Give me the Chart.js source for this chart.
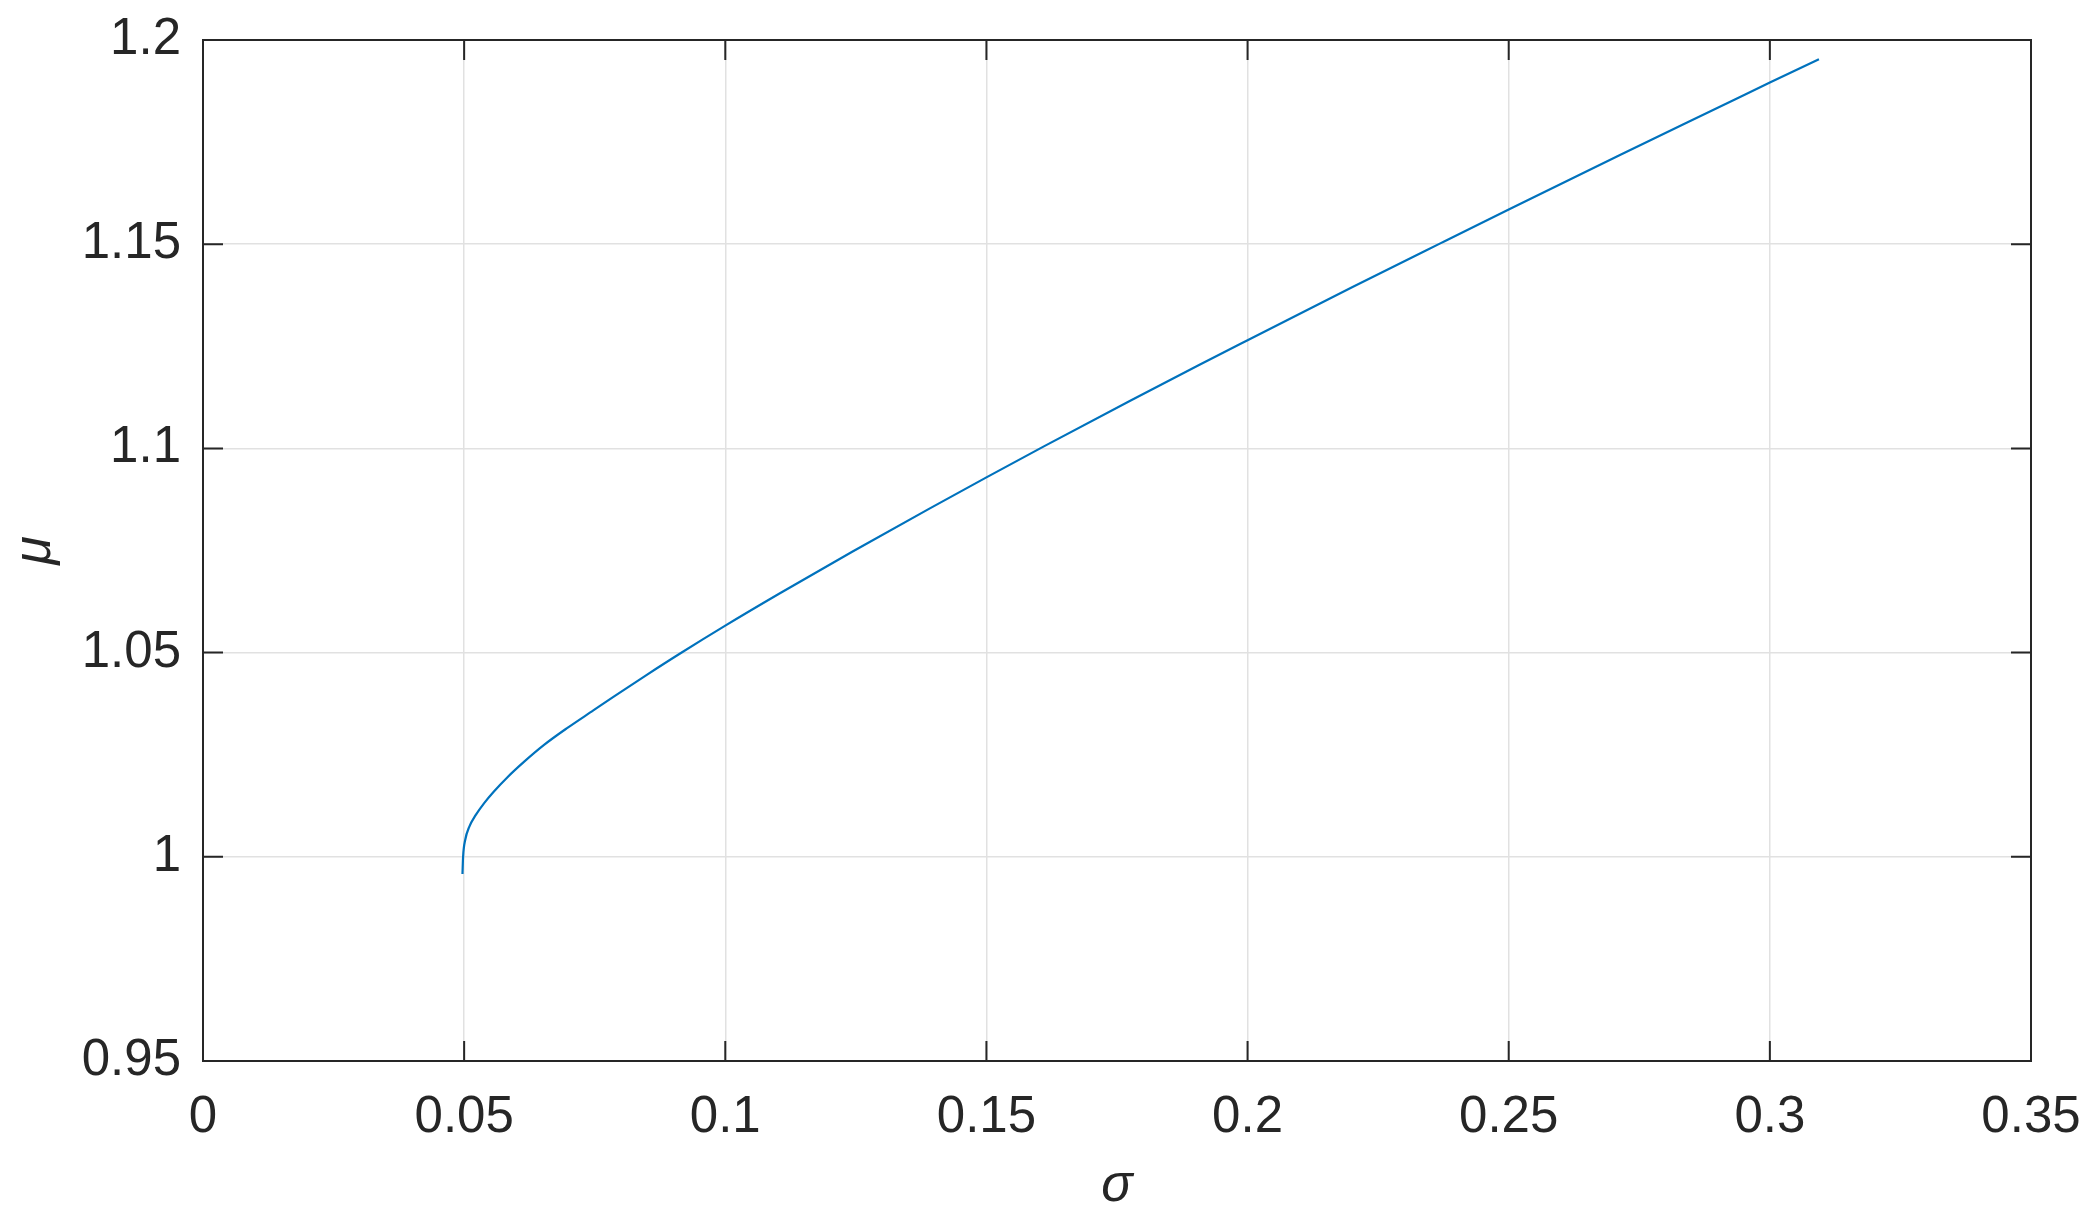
<!DOCTYPE html>
<html>
<head>
<meta charset="utf-8">
<script src="https://cdn.jsdelivr.net/npm/chart.js@4/dist/chart.umd.min.js"></script>
<style>
    html, body { margin: 0; padding: 0; background: #ffffff; }
    #wrap { width: 2098px; height: 1220px; }
</style>
</head>
<body>
<div id="wrap"><canvas id="muChart" width="2098" height="1220"></canvas></div>
<script>
// values
const sigmaValues = [
    0.04968, 0.0498, 0.0502, 0.0510, 0.0522, 0.0538, 0.0557, 0.0583, 0.0615, 0.0653,
    0.0697, 0.0748, 0.0785, 0.0849, 0.0915, 0.1000, 0.1103, 0.1243, 0.1390, 0.1500,
    0.1610, 0.1779, 0.1908, 0.2000, 0.2201, 0.2369, 0.2500, 0.2714, 0.2934, 0.3000,
    0.3094
];
const muValues = [
    0.9958, 1.0000, 1.0041, 1.0074, 1.0102, 1.0131, 1.0160, 1.0195, 1.0233, 1.0274,
    1.0315, 1.0359, 1.0391, 1.0445, 1.0499, 1.0566, 1.0644, 1.0747, 1.0852, 1.0929,
    1.1005, 1.1119, 1.1205, 1.1265, 1.1395, 1.1502, 1.1585, 1.1719, 1.1855, 1.1896,
    1.1953
];

// tick labels
const xTicks = [0, 0.05, 0.1, 0.15, 0.2, 0.25, 0.3, 0.35];
const yTicks = [0.95, 1, 1.05, 1.1, 1.15, 1.2];

const axisColor = '#262626';
const gridColor = '#e1e1e1';
const tickFont = { family: '"Liberation Sans", Arial, sans-serif', size: 51 };
const titleFont = { family: '"Liberation Sans", Arial, sans-serif', size: 52, style: 'italic' };

// matlab style box with inward ticks on all four sides
const boxPlugin = {
    id: 'boxTicks',
    afterDraw(chart) {
        const { ctx, chartArea } = chart;
        const xs = chart.scales.x;
        const ys = chart.scales.y;
        const len = 20;
        ctx.save();
        ctx.strokeStyle = axisColor;
        ctx.lineWidth = 2;
        ctx.beginPath();
        xTicks.forEach(v => {
            const px = xs.getPixelForValue(v);
            ctx.moveTo(px, chartArea.bottom);
            ctx.lineTo(px, chartArea.bottom - len);
            ctx.moveTo(px, chartArea.top);
            ctx.lineTo(px, chartArea.top + len);
        });
        yTicks.forEach(v => {
            const py = ys.getPixelForValue(v);
            ctx.moveTo(chartArea.left, py);
            ctx.lineTo(chartArea.left + len, py);
            ctx.moveTo(chartArea.right, py);
            ctx.lineTo(chartArea.right - len, py);
        });
        ctx.stroke();
        ctx.strokeRect(chartArea.left, chartArea.top,
            chartArea.right - chartArea.left, chartArea.bottom - chartArea.top);
        ctx.restore();
    }
};

function fmt(v) {
    return String(parseFloat(Number(v).toFixed(2)));
}

const ctx = document.getElementById('muChart').getContext('2d');

new Chart(ctx, {
    type: 'line',
    data: {
        datasets: [{
            data: sigmaValues.map((s, i) => ({ x: s, y: muValues[i] })),
            borderColor: '#0072BD',
            backgroundColor: '#0072BD',
            borderWidth: 2.2,
            pointRadius: 0,
            fill: false,
            cubicInterpolationMode: 'monotone'
        }]
    },
    options: {
        responsive: false,
        animation: false,
        layout: {
            padding: { left: 0, right: 67, top: 40, bottom: 0 }
        },
        plugins: {
            legend: { display: false },
            tooltip: { enabled: false },
            title: { display: false }
        },
        scales: {
            x: {
                type: 'linear',
                min: 0,
                max: 0.35,
                afterBuildTicks: scale => {
                    scale.ticks = xTicks.map(v => ({ value: v }));
                },
                afterFit: scale => {
                    scale.height = 159;
                    scale.paddingLeft = 0;
                    scale.paddingRight = 0;
                },
                border: { display: false },
                grid: {
                    color: gridColor,
                    lineWidth: 1.5,
                    drawTicks: false
                },
                ticks: {
                    color: axisColor,
                    font: tickFont,
                    padding: 26,
                    maxRotation: 0,
                    autoSkip: false,
                    callback: v => fmt(v)
                },
                title: {
                    display: true,
                    text: 'σ',
                    color: axisColor,
                    font: titleFont,
                    padding: { top: 0, bottom: 2 }
                }
            },
            y: {
                type: 'linear',
                min: 0.95,
                max: 1.2,
                afterBuildTicks: scale => {
                    scale.ticks = yTicks.map(v => ({ value: v }));
                },
                afterFit: scale => {
                    scale.width = 203;
                    scale.paddingTop = 0;
                    scale.paddingBottom = 0;
                },
                border: { display: false },
                grid: {
                    color: gridColor,
                    lineWidth: 1.5,
                    drawTicks: false
                },
                ticks: {
                    color: axisColor,
                    font: tickFont,
                    padding: 22,
                    autoSkip: false,
                    callback: v => fmt(v)
                },
                title: {
                    display: true,
                    text: 'μ',
                    color: axisColor,
                    font: titleFont,
                    padding: { top: 4, bottom: 0 }
                }
            }
        }
    },
    plugins: [boxPlugin]
});
</script>
</body>
</html>
